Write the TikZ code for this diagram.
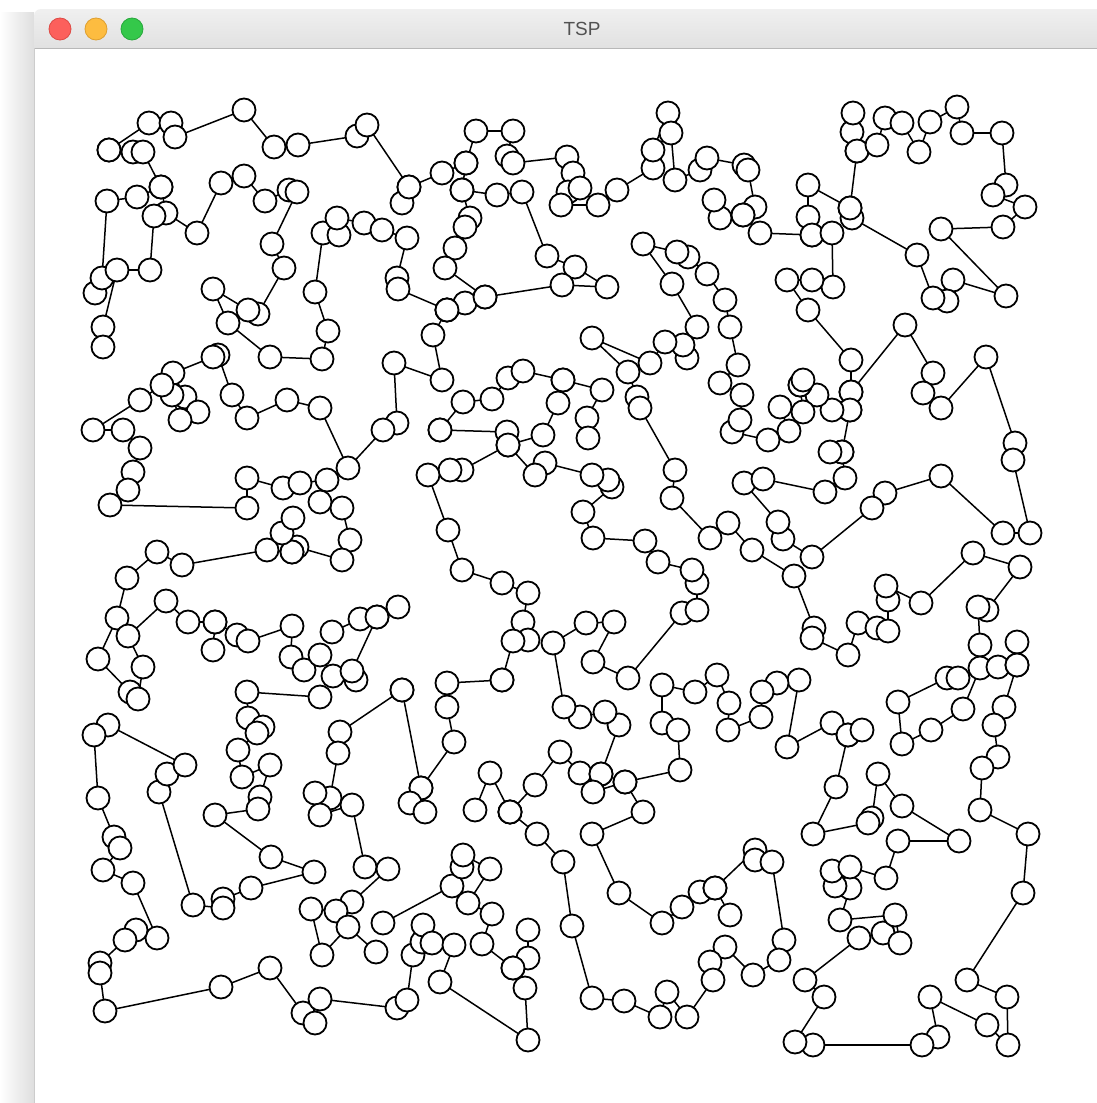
\documentclass[tikz,border=0pt]{standalone}
\usepackage{fontspec}
\setmainfont{Liberation Sans}
\definecolor{tlred}{HTML}{FC605C}
\definecolor{tlredb}{HTML}{DE4A45}
\definecolor{tlyel}{HTML}{FDBC40}
\definecolor{tlyelb}{HTML}{DE9F2F}
\definecolor{tlgrn}{HTML}{34C84A}
\definecolor{tlgrnb}{HTML}{27A83B}
\tikzset{
  edge/.style={line width=1.5pt, black},
  nd/.style={draw=black, line width=1.8pt, fill=white},
}
\newcommand\tsptour[1]{\foreach \x/\y [count=\i] in #1 {\ifnum\i>1 \draw[edge] (\tspx,\tspy) -- (\x,\y);\fi \xdef\tspx{\x}\xdef\tspy{\y}}}
\newcommand\tspnodes[1]{\foreach \x/\y in #1 {\draw[nd] (\x,\y) circle (11.5);}}
\def\cA{109/150,149/123,171/123,175/137,244/110,274/147,298/145,357/136,367/125,409/187,402/203}
\def\cB{109/150,133/152,143/152,161/187,166/213,197/233,221/183,244/176,265/201,289/190,297/192,272/244,284/268,258/314,248/310,213/289,228/323,270/357,322/359,328/331,315/292,323/233,339/235,337/218,364/223,382/230,407/238,397/278,398/289,447/310}
\def\cC{95/293,102/278,107/201,137/197,161/187}
\def\cD{154/216,150/270,117/270,103/327,103/347}
\def\cE{447/310,433/335,442/380,394/363,397/423,383/430,348/468,320/408,287/400,247/418,232/395,218/355,213/357,173/373,185/397,198/412,180/420,172/395,162/385,140/400,93/430,123/430,140/448,133/472,128/490,110/505,247/508,247/478,283/488,300/483,327/480,320/502,342/508,350/540,342/560,297/547,292/552,267/550,182/565,157/552,127/578,117/618,98/659,130/692,138/699,143/667,128/636,166/601,188/622,215/622,237/635,248/641,292/626,291/657,304/670,320/655,333/676,356/680,352/671,377/617,398/607}
\def\cF{292/552,282/533,293/518}
\def\cG{215/622,213/650}
\def\cH{332/632,360/619,377/617}
\def\cI{320/697,247/692,248/718,263/727,257/733,238/750,242/777,270/765,260/797,258/809,215/815,271/857,314/872,251/888,223/899,223/908,193/905,159/792,167/774,185/765,108/725,94/735,98/798,114/837,120/848,103/870,133/883,157/938,136/930,125/940,100/963,100/973,105/1011,221/987,270/968,303/1013,315/1023,320/999,397/1008,407/1000,413/955,422/942,423/925}
\def\cJ{432/943,454/945,440/982,528/1040,525/988,513/968,528/958,528/930}
\def\cK{383/923,452/886,462/867,463/855,490/869,468/903,492/914,482/944,513/968}
\def\cL{402/690,340/732,338/753,330/798,315/793,320/815,352/805,365/867,388/869,352/902,336/911,311/909,322/955,348/927,376/952}
\def\cM{502/680,447/683,447/707,454/742,421/788,402/690}
\def\cN{421/788,410/803,425/812}
\def\cO{409/187,442/173,466/163,476/131,513/131,507/156,513/163,567/157,573/173,568/192,580/188,561/205,598/205,617/190,653/168,653/150,668/113,671/133,675/180,700/170,707/158,744/165,748/170,755/207,743/215,720/218,714/200}
\def\cP{466/163,462/190,497/195,522/192,547/256,575/267,607/287,562/285,485/297,465/303,447/310}
\def\cQ{462/190,470/218,465/227,455/248,445/268,485/297}
\def\cR{743/215,760/233,812/235,808/217,808/185,850/208,857/151,852/132,853/113}
\def\cRR{857/151,877/145,885/118,902/123,919/152,930/122,957/107,962/133,1002/133,1006/185,993/195,1025/207,1003/227,941/229,1006/296,953/280,947/301,933/298,917/255,852/218,850/208}
\def\cS{812/235,832/233,833/287,812/280,787/280,808/310,851/360,851/392,905/325,933/373,923/393,941/408,986/357,1015/443,1013/460,1030/533,1003/533,941/476,885/493,872/508,812/557,783/539,778/522,744/483,763/479,825/492,845/478,842/452,850/410,851/392}
\def\cSS{842/452,830/452}
\def\cT{850/410,832/410,817/395,800/385,803/412,780/407,789/431,768/440,732/432,740/420,742/395,720/383,738/365,730/327,725/300,707/274,688/257,677/252,643/244,672/284,697/327,687/358,683/345,665/342,650/363,592/338,628/372,637/397,640/408,675/470,672/498,710/538,728/523,752/550,794/576,814/628,812/638,848/655,858/623,877/628,888/631,888/600,886/586,921/603,973/553,1020/567,987/610,978/607,980/645,980/668,963/709,931/730,902/744,898/702,947/678,958/678,998/667,1017/665,1017/642}
\def\cTT{800/385,803/380}
\def\cU{1017/665,1004/707,994/725,998/757,982/768,980/810,1028/834,1023/893,967/980,1007/997,1008/1045,987/1025,930/997,938/1037,922/1045,813/1045,795/1042,824/997,805/980,859/938,883/933,900/943,895/915,840/920,850/888,835/886,832/871,850/867,886/878,898/841,959/841,902/806,878/774,872/818,868/823,813/834,836/787,848/735,832/723,787/747,799/680,777/683,762/692,761/717,728/730,729/703,717/675,695/692,662/685,662/723,678/730,680/770,625/782,643/812,592/834,619/893,662/923,682/907,700/892,715/888,755/850,755/860,772/862,784/940,779/960,753/975,725/947,710/962,713/980,687/1017,667/992,660/1017,624/1001,592/998,572/926,563/862,537/834,510/812}
\def\cUU{848/735,862/730}
\def\cUV{715/888,730/915}
\def\cV{510/812,490/773,475/810}
\def\cW{510/812,535/785,560/752,580/773,601/774,619/725,605/712,580/717,564/707,553/643,586/623,614/622,593/662,628/678,682/613,697/610,697/583,692/570,658/562,645/541,593/538,583/512,612/487,608/480,592/475,545/463,535/475,508/445,543/435,558/403,563/380,602/390,587/418,588/438}
\def\cWW{601/774,593/792,625/782}
\def\cX{440/430,507/432,508/445,462/470,450/470,428/475,448/530,462/570,502/583,528/593,523/622,528/640,513/641,502/680}
\def\cY{440/430,463/402,492/399,508/378,523/371,563/380}
\begin{document}
\begin{tikzpicture}[x=1pt,y=-1pt]
\useasboundingbox (0,0) rectangle (1097,1103);
\fill[white] (0,0) rectangle (1097,1103);
% window shadow on the left
\shade[left color=white, right color=black!13] (0,12) rectangle (34,1103);
% title bar
\shade[top color=black!6, bottom color=black!15, rounded corners=7pt] (34,9) rectangle (1120,70);
\fill[white] (34,48) rectangle (1120,1120);
\draw[black!28, line width=0.8pt] (34,48) -- (1097,48);
\draw[black!20, line width=0.8pt] (34,48) -- (34,1103);
\draw[tlredb, fill=tlred, line width=0.8pt] (60,29) circle (11);
\draw[tlyelb, fill=tlyel, line width=0.8pt] (96,29) circle (11);
\draw[tlgrnb, fill=tlgrn, line width=0.8pt] (132,29) circle (11);
\node[text=black!68, font=\fontsize{19}{19}\selectfont] (title) at (582,29) {TSP};
% tour edges
\tsptour\cA \tsptour\cB \tsptour\cC \tsptour\cD \tsptour\cE \tsptour\cF
\tsptour\cG \tsptour\cH \tsptour\cI \tsptour\cJ \tsptour\cK \tsptour\cL
\tsptour\cM \tsptour\cN \tsptour\cO \tsptour\cP \tsptour\cQ \tsptour\cR
\tsptour\cRR \tsptour\cS \tsptour\cSS \tsptour\cT \tsptour\cTT \tsptour\cU
\tsptour\cUU \tsptour\cUV \tsptour\cV \tsptour\cW \tsptour\cWW \tsptour\cX
\tsptour\cY
% cities
\tspnodes\cA \tspnodes\cB \tspnodes\cC \tspnodes\cD \tspnodes\cE \tspnodes\cF
\tspnodes\cG \tspnodes\cH \tspnodes\cI \tspnodes\cJ \tspnodes\cK \tspnodes\cL
\tspnodes\cM \tspnodes\cN \tspnodes\cO \tspnodes\cP \tspnodes\cQ \tspnodes\cR
\tspnodes\cRR \tspnodes\cS \tspnodes\cSS \tspnodes\cT \tspnodes\cTT \tspnodes\cU
\tspnodes\cUU \tspnodes\cUV \tspnodes\cV \tspnodes\cW \tspnodes\cWW \tspnodes\cX
\tspnodes\cY
\end{tikzpicture}
\end{document}
